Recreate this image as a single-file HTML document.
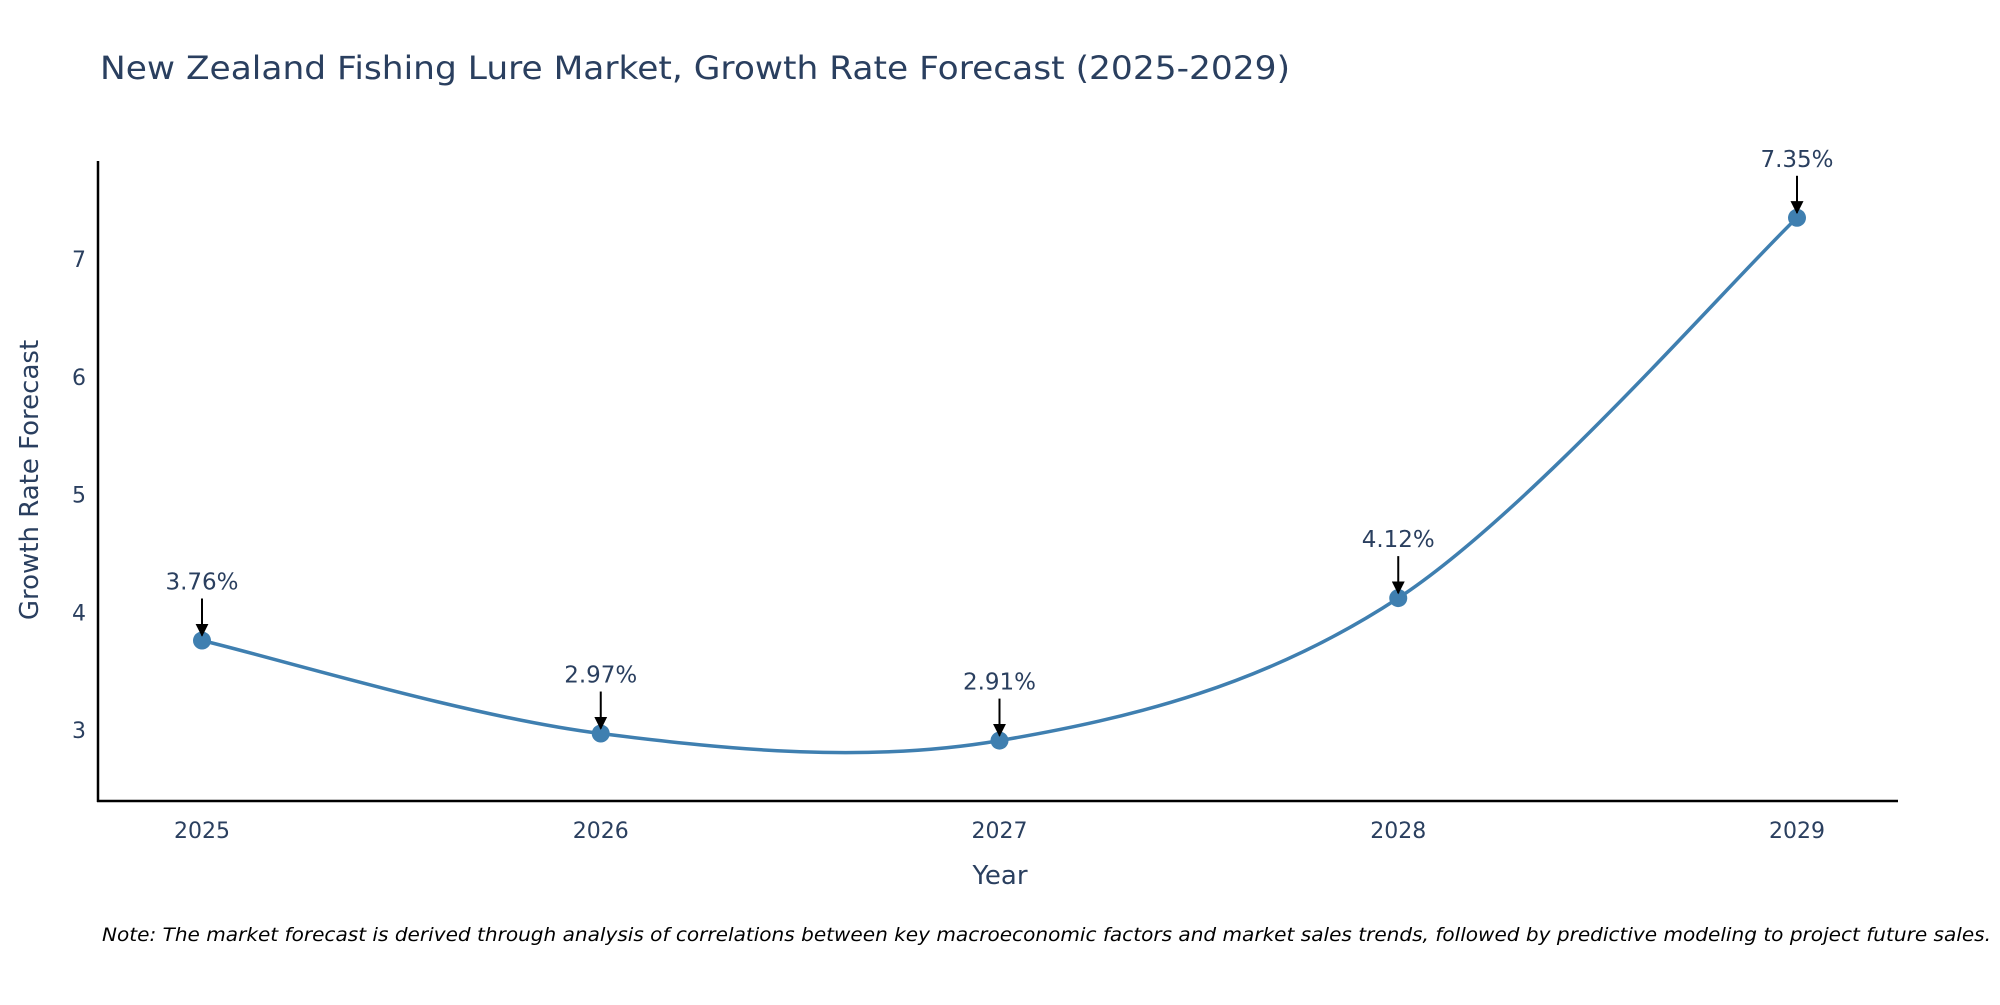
<!DOCTYPE html>
<html><head><meta charset="utf-8"><style>
body{margin:0;background:#fff;}
svg text{font-family:"DejaVu Sans","Liberation Sans",sans-serif;}
</style></head><body>
<svg id="chart" width="2000" height="1000" viewBox="0 0 2000 1000" xmlns="http://www.w3.org/2000/svg">
<rect width="2000" height="1000" fill="#fff"/>
<text x="100" y="79" font-size="32" fill="#2a3f5f" textLength="1190" lengthAdjust="spacingAndGlyphs">New Zealand Fishing Lure Market, Growth Rate Forecast (2025-2029)</text>
<line x1="98" y1="161" x2="98" y2="802" stroke="#000" stroke-width="2.5"/>
<line x1="97" y1="801" x2="1898" y2="801" stroke="#000" stroke-width="2.5"/>
<g id="xticks"></g><g id="yticks"></g>
<path id="curve" fill="none" stroke="#3f7fb0" stroke-width="3.5"/>
<g id="points"></g><g id="annos"></g>
<text transform="translate(38,480) rotate(-90)" text-anchor="middle" font-size="26" fill="#2a3f5f">Growth Rate Forecast</text>
<text x="1000" y="884" text-anchor="middle" font-size="26" fill="#2a3f5f">Year</text>
<text x="102" y="941" font-size="19" font-style="italic" fill="#000" textLength="1889" lengthAdjust="spacingAndGlyphs">Note: The market forecast is derived through analysis of correlations between key macroeconomic factors and market sales trends, followed by predictive modeling to project future sales.</text>
<defs><marker id="ah" viewBox="0 0 10 10" refX="9" refY="5" markerWidth="13" markerHeight="13" markerUnits="userSpaceOnUse" orient="auto"><path d="M0,0 L10,5 L0,10 z" fill="#000"/></marker></defs>
</svg>
<script>
const years=[2025,2026,2027,2028,2029];
const values=[3.76,2.97,2.91,4.12,7.35];
const labels=["3.76%","2.97%","2.91%","4.12%","7.35%"];
const yTicks=[3,4,5,6,7];
const NS="http://www.w3.org/2000/svg";
function xs(yr){return 202+(yr-2025)*398.75;}
function ys(v){return 730-(v-3)*117.75;}
function mk(tag,attrs,parent){const e=document.createElementNS(NS,tag);for(const k in attrs)e.setAttribute(k,attrs[k]);document.getElementById(parent).appendChild(e);return e;}
years.forEach(y=>{const t=mk('text',{x:xs(y),y:838,'text-anchor':'middle','font-size':'22',fill:'#2a3f5f'},'xticks');t.textContent=y;

});
yTicks.forEach(v=>{const t=mk('text',{x:86,y:ys(v)+8,'text-anchor':'end','font-size':'22',fill:'#2a3f5f'},'yticks');t.textContent=v;

});
const P=years.map((y,i)=>[xs(y),ys(values[i])]);
let d=`M${P[0][0]},${P[0][1]}`;
for(let i=0;i<P.length-1;i++){const p0=P[Math.max(i-1,0)],p1=P[i],p2=P[i+1],p3=P[Math.min(i+2,P.length-1)];
const c1=[p1[0]+(p2[0]-p0[0])/6,p1[1]+(p2[1]-p0[1])/6],c2=[p2[0]-(p3[0]-p1[0])/6,p2[1]-(p3[1]-p1[1])/6];
d+=` C${c1[0]},${c1[1]} ${c2[0]},${c2[1]} ${p2[0]},${p2[1]}`;}
document.getElementById('curve').setAttribute('d',d);
P.forEach((p,i)=>{const c=mk('circle',{cx:p[0],cy:p[1],r:9,fill:'#3f7fb0'},'points');


const l=mk('line',{x1:p[0],y1:p[1]-42,x2:p[0],y2:p[1]-5,stroke:'#000','stroke-width':2,'marker-end':'url(#ah)'},'annos');


const t=mk('text',{x:p[0],y:p[1]-51,'text-anchor':'middle','font-size':'23',fill:'#2a3f5f'},'annos');t.textContent=labels[i];

});
</script>
</body></html>
